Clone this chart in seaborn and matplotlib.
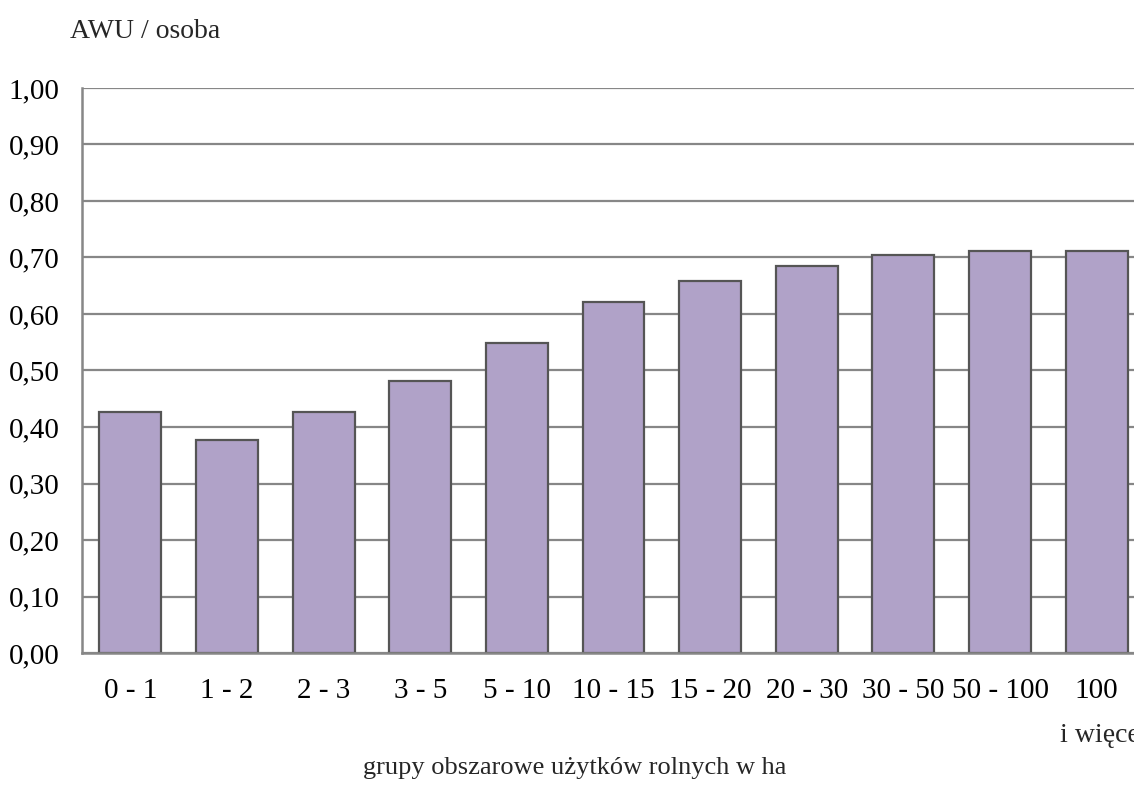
import matplotlib
matplotlib.use("Agg")
import matplotlib.pyplot as plt
import matplotlib.transforms as mtransforms
import seaborn as sns
import pandas as pd

# grupy obszarowe i wartości AWU / osoba
groups = ["0 - 1", "1 - 2", "2 - 3", "3 - 5", "5 - 10", "10 - 15",
          "15 - 20", "20 - 30", "30 - 50", "50 - 100", "100"]
awu = [0.427, 0.377, 0.427, 0.482, 0.549, 0.622, 0.658, 0.685, 0.704, 0.712, 0.712]
yticks = [0.0, 0.1, 0.2, 0.3, 0.4, 0.5, 0.6, 0.7, 0.8, 0.9, 1.0]

df = pd.DataFrame({"grupa": groups, "awu": awu})

sns.set_style("white")
plt.rcParams['font.family'] = ['Liberation Serif', 'DejaVu Serif']

fig = plt.figure(figsize=(11.34, 7.92), dpi=100)
ax = fig.add_axes([0.0723, 0.1755, 0.9374, 0.7134])

sns.barplot(data=df, x="grupa", y="awu", color="#b0a2c8", saturation=1,
            width=0.64, edgecolor="#555555", linewidth=1.6, ax=ax, zorder=3)

ax.set_ylim(0, 1.0)
ax.set_xlim(-0.5, len(groups) - 0.5)
ax.set_yticks(yticks)
ax.set_yticklabels([f"{v:.2f}".replace(".", ",") for v in yticks])
ax.yaxis.grid(True, color="#878787", linewidth=1.6, zorder=0)
ax.set_axisbelow(True)

for side in ["top", "right"]:
    ax.spines[side].set_visible(False)
for side in ["left", "bottom"]:
    ax.spines[side].set_color("#878787")
    ax.spines[side].set_linewidth(1.8)
    ax.spines[side].set_zorder(4)

ax.tick_params(axis="both", length=0, labelsize=21, colors="black")
ax.tick_params(axis="y", pad=16)
ax.tick_params(axis="x", pad=18)
ax.set_xlabel("")
ax.set_ylabel("")

# druga linia ostatniej etykiety (ucięta przy krawędzi jak w oryginale)
trans = mtransforms.blended_transform_factory(ax.transData, ax.transAxes)
ax.text(len(groups) - 1 - 0.38, -0.124, "i więcej", transform=trans,
        ha="left", va="top", fontsize=20, clip_on=False)

fig.text(70 / 1134, 1 - 32 / 792, "AWU / osoba", ha="left", va="center", fontsize=20)
fig.text(575 / 1134, 1 - 768 / 792, "grupy obszarowe użytków rolnych w ha",
         ha="center", va="center", fontsize=19)

fig.savefig("out.png", dpi=100)
